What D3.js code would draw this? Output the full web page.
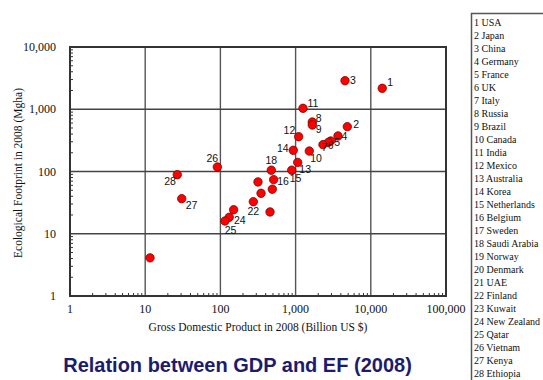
<!DOCTYPE html>
<html><head><meta charset="utf-8">
<script src="https://cdn.jsdelivr.net/npm/d3@7"></script>
<style>body{margin:0;background:#fff}svg{display:block}</style>
</head><body>
<svg id="c" width="543" height="380"></svg>
<script>
// ---- data ----
const ids = [1,2,3,4,5,6,7,8,9,10,11,12,13,14,15,16,17,18,19,20,21,22,23,24,25,26,27,28,29];
const countries = ["USA","Japan","China","Germany","France","UK","Italy","Russia","Brazil","Canada","India","Mexico","Australia","Korea","Netherlands","Belgium","Sweden","Saudi Arabia","Norway","Denmark","UAE","Finland","Kuwait","New Zealand","Qatar","Vietnam","Kenya","Ethiopia",""];
const gdp = [14200,4870,4540,3660,2930,2720,2310,1667,1667,1521,1254,1099,1067,931,888,511,490,475,457,347,316,274,150,131,115,91,30.6,26.7,11.6];
const ef  = [2170,525,2875,372,309,294,270,624,558,213,1036,362,140,219,105,74,52,105,22.4,44.7,68,32.7,24.3,18.4,16.0,118,36.6,88.9,4.1];
const labelled = [1,2,3,4,5,6,7,8,9,10,11,12,13,14,15,16,18,22,24,25,26,27,28];
const xTicks = [1,10,100,1000,10000,100000];
const yTicks = [1,10,100,1000,10000];

// label placement (dx, dy baseline, anchor) keyed by id
const place = {
 1:[5,-2,"start"],2:[6,1,"start"],3:[5,3.5,"start"],4:[3.5,4.5,"start"],5:[3.5,4.5,"start"],
 6:[-0.5,6.5,"start"],7:[-1.5,6.5,"start"],8:[3.5,0.5,"start"],9:[3.5,8.3,"start"],10:[1,11,"start"],
 11:[4.5,-1.3,"start"],12:[-3.4,-2.7,"end"],13:[1.6,10.4,"start"],14:[-4.6,1.4,"end"],
 15:[-2,11.4,"start"],16:[3.6,5.3,"start"],18:[0,-6.3,"middle"],22:[0,13.3,"middle"],
 24:[4.7,7,"start"],25:[-0.3,13,"start"],26:[-5,-5,"middle"],27:[4,10.3,"start"],28:[-1.3,10.6,"end"]
};

const svg = d3.select("#c");
const L=70,R=446,T=47,B=296;
const x = d3.scaleLog().domain([1,100000]).range([L,R]);
const y = d3.scaleLog().domain([1,10000]).range([B,T]);
const serif = "'Liberation Serif','Times New Roman',serif";
const sans = "'Liberation Sans',Arial,sans-serif";

// grid
svg.append("g").selectAll("line").data(xTicks.slice(1,-1)).join("line")
  .attr("x1",d=>x(d)).attr("x2",d=>x(d)).attr("y1",T).attr("y2",B)
  .attr("stroke","#555").attr("stroke-width",1.4);
svg.append("g").selectAll("line").data(yTicks.slice(1,-1)).join("line")
  .attr("y1",d=>y(d)).attr("y2",d=>y(d)).attr("x1",L).attr("x2",R)
  .attr("stroke","#444").attr("stroke-width",1.3);

// minor ticks
const minorX=[], minorY=[];
for(let e=0;e<5;e++) for(let m=2;m<10;m++) minorX.push(m*Math.pow(10,e));
for(let e=0;e<4;e++) for(let m=2;m<10;m++) minorY.push(m*Math.pow(10,e));
svg.append("g").selectAll("line").data(minorX).join("line")
  .attr("x1",d=>x(d)).attr("x2",d=>x(d)).attr("y1",B).attr("y2",B-3)
  .attr("stroke","#333").attr("stroke-width",1);
svg.append("g").selectAll("line").data(minorY).join("line")
  .attr("y1",d=>y(d)).attr("y2",d=>y(d)).attr("x1",L).attr("x2",L+3)
  .attr("stroke","#333").attr("stroke-width",1);

// frame
svg.append("rect").attr("x",L).attr("y",T).attr("width",R-L).attr("height",B-T)
  .attr("fill","none").attr("stroke","#333").attr("stroke-width",2);

// tick labels
const fmt = d3.format(",");
svg.append("g").selectAll("text").data(xTicks).join("text")
  .attr("x",d=>x(d)).attr("y",313).attr("text-anchor","middle")
  .attr("font-family",serif).attr("font-size",12).attr("fill","#111").text(d=>fmt(d));
svg.append("g").selectAll("text").data(yTicks).join("text")
  .attr("x",56).attr("y",d=>y(d)+4).attr("text-anchor","end")
  .attr("font-family",serif).attr("font-size",12).attr("fill","#111").text(d=>fmt(d));

// axis titles
svg.append("text").attr("x",258).attr("y",331).attr("text-anchor","middle")
  .attr("font-family",serif).attr("font-size",11.5).attr("fill","#111")
  .text("Gross Domestic Product in 2008 (Billion US $)");
svg.append("text").attr("transform","translate(22,173) rotate(-90)").attr("text-anchor","middle")
  .attr("font-family",serif).attr("font-size",11.5).attr("fill","#111")
  .text("Ecological Footprint in 2008 (Mgha)");

// points
const pts = ids.map((id,i)=>({id,gdp:gdp[i],ef:ef[i]}));
svg.append("g").selectAll("circle").data(pts).join("circle")
  .attr("cx",d=>x(d.gdp)).attr("cy",d=>y(d.ef)).attr("r",4.2)
  .attr("fill","#ff0000").attr("stroke","#7a0000").attr("stroke-width",0.8);

// point labels
svg.append("g").selectAll("text").data(pts.filter(d=>labelled.includes(d.id))).join("text")
  .attr("x",d=>x(d.gdp)+place[d.id][0]).attr("y",d=>y(d.ef)+place[d.id][1])
  .attr("text-anchor",d=>place[d.id][2])
  .attr("font-family",sans).attr("font-size",10.5).attr("fill","#111").text(d=>d.id);

// legend (entries that fit inside the frame)
svg.append("rect").attr("x",471.5).attr("y",13.5).attr("width",100).attr("height",400)
  .attr("fill","#fff").attr("stroke","#555").attr("stroke-width",1.5);
svg.append("g").selectAll("text").data(ids.filter((d,i)=>countries[i])).join("text")
  .attr("x",474).attr("y",(d,i)=>25.5+13*i)
  .attr("font-family",serif).attr("font-size",10).attr("fill","#111")
  .text((d,i)=>d+" "+countries[i]);

// title
svg.append("text").attr("x",237.5).attr("y",372).attr("text-anchor","middle")
  .attr("font-family",sans).attr("font-weight","bold").attr("font-size",20).attr("fill","#1c1c6e")
  .text("Relation between GDP and EF (2008)");
</script>
</body></html>
